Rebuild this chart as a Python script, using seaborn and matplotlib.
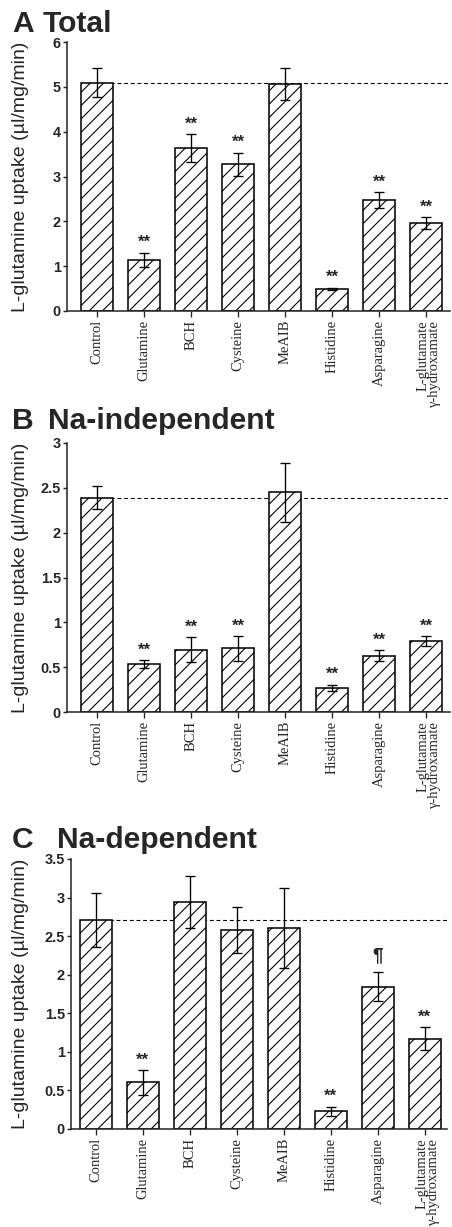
import matplotlib
matplotlib.use("Agg")
import matplotlib.pyplot as plt
import matplotlib.transforms as mtransforms
from matplotlib.ticker import FuncFormatter
import pandas as pd
import seaborn as sns

# values (mean +/- error)
treatments = ["Control", "Glutamine", "BCH", "Cysteine", "MeAIB",
              "Histidine", "Asparagine", "L-glutamate\nγ-hydroxamate"]

total_mean = [5.09, 1.14, 3.63, 3.27, 5.07, 0.49, 2.47, 1.96]
total_err = [0.32, 0.16, 0.31, 0.26, 0.36, 0.03, 0.18, 0.13]
total_marks = ["", "**", "**", "**", "", "**", "**", "**"]

naindep_mean = [2.39, 0.535, 0.695, 0.71, 2.45, 0.27, 0.63, 0.79]
naindep_err = [0.13, 0.04, 0.14, 0.14, 0.33, 0.035, 0.06, 0.055]
naindep_marks = ["", "**", "**", "**", "", "**", "**", "**"]

nadep_mean = [2.71, 0.605, 2.94, 2.58, 2.61, 0.23, 1.845, 1.17]
nadep_err = [0.35, 0.16, 0.34, 0.30, 0.52, 0.06, 0.19, 0.15]
nadep_marks = ["", "**", "", "", "", "**", "¶", "**"]

sns.set_style("ticks")
plt.rcParams['font.family'] = ['Liberation Sans', 'DejaVu Sans']
plt.rcParams['hatch.linewidth'] = 1.0
plt.rcParams['hatch.color'] = 'black'

W, H, DPI = 452, 1227, 80
fig = plt.figure(figsize=(W / DPI, H / DPI), dpi=DPI)


def px_axes(left, right, top, bottom):
    return fig.add_axes([left / W, 1 - bottom / H, (right - left) / W, (bottom - top) / H])


def draw_panel(ax, means, errs, marks, ymax, step, xlim, letter, title, ly, tx):
    df = pd.DataFrame({"treatment": treatments, "uptake": means})
    sns.barplot(data=df, x="treatment", y="uptake", order=treatments,
                color="white", edgecolor="black", linewidth=1.4, hatch="//",
                width=0.68, errorbar=None, ax=ax, zorder=2)
    xs = list(range(len(treatments)))
    ax.errorbar(xs, means, yerr=errs, fmt="none", ecolor="black",
                elinewidth=1.2, capsize=4.5, capthick=1.2, zorder=4)
    ax.hlines(means[0], 0, xlim[1], colors="black", linewidth=1.0,
              linestyles=(0, (3.5, 2.5)), zorder=1)
    for x, m, e, s in zip(xs, means, errs, marks):
        if s == "**":
            ax.annotate(s, (x, m + e), xytext=(0, 9), textcoords="offset points",
                        ha="center", va="center", fontsize=15, fontweight="bold")
        elif s:
            ax.annotate(s, (x, m + e), xytext=(0, 15), textcoords="offset points",
                        ha="center", va="center", fontsize=17, fontweight="bold")

    ax.set_xlim(*xlim)
    ax.set_ylim(0, ymax)
    n = int(round(ymax / step))
    ax.set_yticks([i * step for i in range(n + 1)])
    ax.yaxis.set_major_formatter(FuncFormatter(lambda v, p: "%g" % v))
    ax.set_xticks(xs)
    ax.set_xticklabels(treatments, rotation=90, fontfamily="Liberation Serif",
                       fontsize=13, va="top", ha="center", multialignment="right",
                       linespacing=0.85)
    ax.set_xlabel("")
    ax.set_ylabel("")
    for lab in ax.get_yticklabels():
        lab.set_fontweight("bold")
    ax.tick_params(axis="y", labelsize=13, length=4, width=1.3, pad=1.5)
    ax.tick_params(axis="x", length=5, width=1.2, pad=3)
    sns.despine(ax=ax)
    for sp in ("left", "bottom"):
        ax.spines[sp].set_linewidth(1.4)

    last = ax.get_xticklabels()[-1]
    last.set_transform(last.get_transform() +
                       mtransforms.ScaledTranslation(3 / DPI, 0, fig.dpi_scale_trans))

    bbox = ax.get_position()
    fig.text(21 / W, bbox.y0 + bbox.height / 2, "L-glutamine uptake (µl/mg/min)",
             rotation=90, ha="center", va="center", fontsize=17.5)
    fig.text(12 / W, 1 - ly / H, letter, fontsize=27, fontweight="bold", va="baseline")
    fig.text(tx / W, 1 - ly / H, title, fontsize=27, fontweight="bold", va="baseline")


axA = px_axes(67, 450, 42, 311)
draw_panel(axA, total_mean, total_err, total_marks, 6, 1, (-0.64, 7.51),
           "A", "Total", 32, 43)

axB = px_axes(67, 450, 443, 712)
draw_panel(axB, naindep_mean, naindep_err, naindep_marks, 3, 0.5, (-0.64, 7.51),
           "B", "Na-independent", 429, 48)

axC = px_axes(71, 447, 859, 1129)
draw_panel(axC, nadep_mean, nadep_err, nadep_marks, 3.5, 0.5, (-0.53, 7.47),
           "C", "Na-dependent", 848, 57)

fig.savefig("out.png", dpi=DPI)
